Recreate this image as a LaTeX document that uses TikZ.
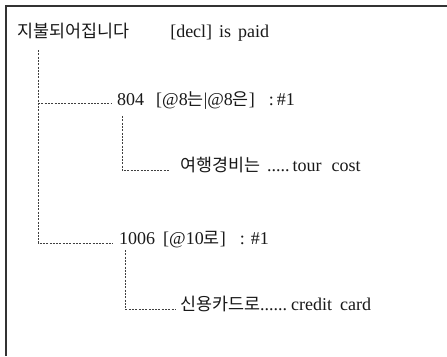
\documentclass[tikz,border=0pt]{standalone}
\usepackage{fontspec}
\setmainfont{Liberation Serif}
\newfontfamily\krfont{Noto Sans CJK KR}
\newcommand{\hg}[1]{{\krfont\fontsize{17.4}{20}\selectfont #1}}
\begin{document}
\begin{tikzpicture}[x=1pt,y=-1pt,
  txt/.style={anchor=base west,inner sep=0pt,font=\fontsize{18}{20}\selectfont,text=black!90},
  conn/.style={draw=black!75,line width=0.7pt,dash pattern=on 2pt off 1.3pt},
  frame/.style={draw=black!80,line width=1.3pt}]
\useasboundingbox (0,0) rectangle (447,356);
\fill[white] (0,0) rectangle (447,356);
\draw[frame] (447,6) -- (6,6) -- (6,356);

\node[txt] (root) at (17,37) {\hg{지불되어집니다}\hspace{41pt}[decl]\hspace{7pt}is\hspace{7pt}paid};
\node[txt] (n804) at (117,105) {804\hspace{12pt}[@8\hg{는}|@8\hg{은}]\hspace{14pt}:\hspace{3pt}\#1};
\node[txt] (ntour) at (180,171) {\hg{여행경비는}\hspace{7pt}.....\hspace{3pt}tour\hspace{10pt}cost};
\node[txt] (n1006) at (119,244) {1006\hspace{8pt}[@10\hg{로}]\hspace{14pt}:\hspace{6pt}\#1};
\node[txt] (ncredit) at (180,310) {\hg{신용카드로}......\hspace{4pt}credit\hspace{8pt}card};

\coordinate (v1) at (38,50);
\coordinate (b804) at (38,103);
\coordinate (v2) at (122,116);
\coordinate (v3) at (125,250);

\draw[conn] (v1) |- ([xshift=-6pt,yshift=1pt]n1006.base west);
\draw[conn] (b804) -- ([xshift=-5pt,yshift=2pt]n804.base west);
\draw[conn] (v2) |- ([xshift=-10pt,yshift=1pt]ntour.base west);
\draw[conn] (v3) |- ([xshift=-5pt,yshift=1pt]ncredit.base west);
\end{tikzpicture}
\end{document}
